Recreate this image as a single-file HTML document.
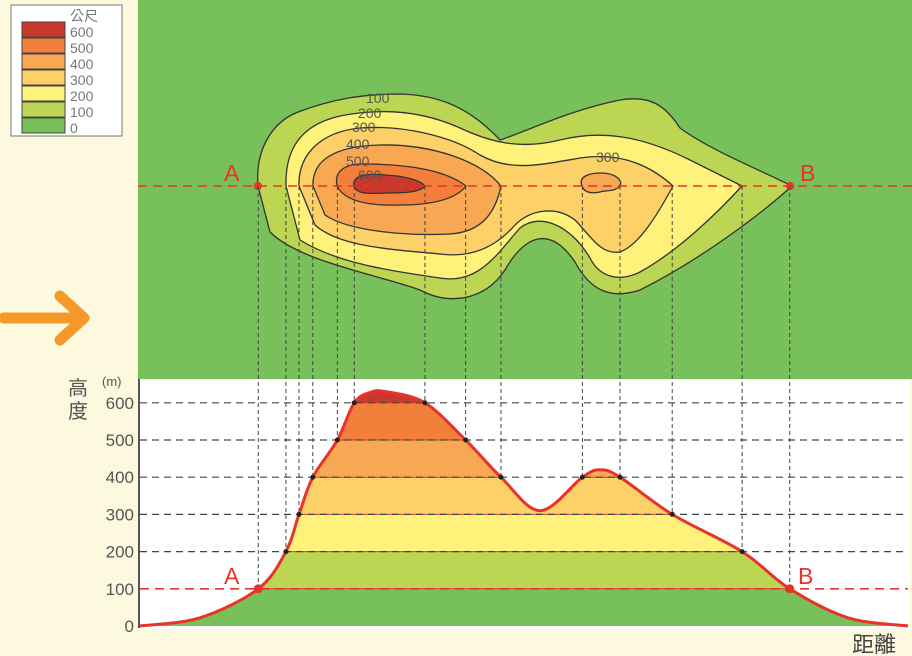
<!DOCTYPE html>
<html><head><meta charset="utf-8"><style>
html,body{margin:0;padding:0;background:#fdf9df;}
svg{display:block;font-family:"Liberation Sans","Noto Sans CJK TC",sans-serif;}
</style></head><body>
<svg id="chart" width="912" height="656" viewBox="0 0 912 656">
<rect x="0" y="0" width="912" height="656" fill="#fdf9df"/>
<g>
<rect x="138" y="0" width="774" height="379" fill="#78c05a"/>
<path fill="#bcd653" stroke="#333" stroke-width="1.3" d="M258,186 C255,150 272,122 298,112 C330,100 360,94 400,94 C440,95 470,108 500,140 C530,130 570,110 620,100 C650,95 665,105 680,128 C710,150 760,170 792,186 C760,215 700,260 640,290 C610,300 590,290 575,262 C550,225 525,235 505,270 C485,300 450,306 420,290 C380,275 300,262 270,232 Z"/>
<path fill="#fef27a" stroke="#333" stroke-width="1.3" d="M286,186 C285,150 300,125 340,116 C380,108 420,110 460,128 C490,142 520,150 560,140 C600,130 640,135 690,160 C720,175 742,186 742,186 C720,210 680,250 640,272 C620,282 600,278 590,258 C570,225 540,212 520,228 C500,250 480,285 440,278 C400,272 340,265 300,240 Z"/>
<path fill="#fdd068" stroke="#333" stroke-width="1.3" d="M299,186 C298,155 320,132 360,128 C400,125 450,135 480,155 C510,172 540,165 580,158 C620,152 650,165 673,186 C660,210 640,245 620,252 C600,255 590,235 575,220 C555,205 530,210 515,225 C495,248 470,258 440,254 C400,250 340,248 315,225 Z"/>
<path fill="#f8a853" stroke="#333" stroke-width="1.3" d="M313,186 C312,160 335,146 380,145 C430,144 480,160 501,186 C495,215 480,232 450,234 C410,236 350,232 325,215 Z"/>
<path fill="#f8a853" stroke="#333" stroke-width="1.3" d="M582,186 C578,176 590,173 601,173 C615,173 623,180 620,186 C615,192 605,190 600,192 C590,194 584,192 582,186 Z"/>
<path fill="#f2803a" stroke="#333" stroke-width="1.3" d="M337,186 C334,170 345,163 370,164 C410,165 445,170 466,186 C455,200 430,205 400,205 C370,206 345,202 337,186 Z"/>
<path fill="#c8382c" stroke="#333" stroke-width="1.3" d="M354,186 C352,176 365,173 385,175 C405,176 420,180 425,186 C420,193 400,193 385,193 C368,194 356,194 354,186 Z"/>
<g font-size="14" fill="#555">
<text x="366" y="103">100</text>
<text x="358" y="118">200</text>
<text x="352" y="132">300</text>
<text x="346" y="149">400</text>
<text x="346" y="166">500</text>
<text x="358" y="180">600</text>
<text x="596" y="162">300</text>
</g>
<line x1="138" y1="186" x2="912" y2="186" stroke="#e8332a" stroke-width="1.6" stroke-dasharray="9,6"/>
<circle cx="258" cy="186" r="4" fill="#e8332a"/>
<circle cx="790" cy="186" r="4" fill="#e8332a"/>
<text x="224" y="181" font-size="23" fill="#e8332a">A</text>
<text x="800" y="181" font-size="23" fill="#e8332a">B</text>
</g>
<g>
<rect x="11" y="5" width="111" height="131" fill="#fff" stroke="#777"/>
<text x="70" y="21" font-size="14" fill="#777" font-family="Noto Sans CJK TC, sans-serif">公尺</text>
<g id="legend-items"></g>
</g>
<g>
<line x1="4" y1="318" x2="80" y2="318" stroke="#f39a2b" stroke-width="11" stroke-linecap="round"/>
<polyline points="60,296 84,318 60,340" fill="none" stroke="#f39a2b" stroke-width="11" stroke-linecap="round" stroke-linejoin="round"/>
</g>
<rect x="139" y="379" width="771" height="250" fill="#fff"/>
<g id="profile"></g>
<text x="68" y="395" font-size="20" fill="#555" font-family="Noto Sans CJK TC, sans-serif">高</text>
<text x="68" y="418" font-size="20" fill="#555" font-family="Noto Sans CJK TC, sans-serif">度</text>
<text x="102" y="386" font-size="13" fill="#555">(m)</text>
<text x="852" y="652" font-size="22" fill="#444" font-family="Noto Sans CJK TC, sans-serif">距離</text>
</svg>
<script>
const legendLevels = [600,500,400,300,200,100,0];
const legendColors = ["#c8382c","#f2803a","#f8a853","#fdd068","#fef27a","#bcd653","#78c05a"];
const yTicks = [0,100,200,300,400,500,600];
const bandColors = ["#78c05a","#bcd653","#fef27a","#fdd068","#f8a853","#f2803a","#c8382c"];
const distances = [0,7.8,15.4,19,20.7,22.5,25.7,27.9,30,32,37.1,42.4,47,52.1,57.6,59.9,62.5,69.3,78.4,84.6,92.2,100];
const elevations = [0,22,100,200,300,400,500,600,628,630,600,500,400,310,400,420,400,300,200,100,22,0];
const marked = [2,3,4,5,6,7,10,11,12,14,16,17,18,19];

const NS="http://www.w3.org/2000/svg";
function mk(tag,attrs,parent){const e=document.createElementNS(NS,tag);for(const k in attrs)e.setAttribute(k,attrs[k]);parent.appendChild(e);return e;}
const X0=140,X1=908,Y0=626,PX=0.372;
const xs=d=>X0+(X1-X0)*d/100;
const ys=v=>Y0-v*PX;

const lg=document.getElementById('legend-items');
legendLevels.forEach((lv,i)=>{
  const y=22+i*16;
  const r=mk('rect',{x:22,y:y,width:43,height:15,fill:legendColors[i],stroke:'#444','stroke-width':1},lg);
  
  
  const t=mk('text',{x:70,y:y+15,'font-size':14,fill:'#777'},lg);
  t.textContent=lv;
  
  
});

const pts=distances.map((d,i)=>[xs(d),ys(elevations[i])]);
let dpath='M'+pts[0][0]+','+pts[0][1];
for(let i=0;i<pts.length-1;i++){
  const p0=pts[Math.max(0,i-1)],p1=pts[i],p2=pts[i+1],p3=pts[Math.min(pts.length-1,i+2)];
  const c1=[p1[0]+(p2[0]-p0[0])/6,p1[1]+(p2[1]-p0[1])/6];
  const c2=[p2[0]-(p3[0]-p1[0])/6,p2[1]-(p3[1]-p1[1])/6];
  dpath+=' C'+c1[0].toFixed(1)+','+c1[1].toFixed(1)+' '+c2[0].toFixed(1)+','+c2[1].toFixed(1)+' '+p2[0].toFixed(1)+','+p2[1].toFixed(1);
}
const pg=document.getElementById('profile');
const defs=mk('defs',{},pg);
const cp=mk('clipPath',{id:'under'},defs);
mk('path',{d:dpath+' L'+X1+','+Y0+' L'+X0+','+Y0+' Z'},cp);
const bands=mk('g',{'clip-path':'url(#under)'},pg);


bandColors.forEach((c,i)=>{
  const b=mk('rect',{x:X0,y:ys((i+1)*100),width:X1-X0,height:100*PX,fill:c},bands);
  
  
  if(i>0){const l=mk('line',{x1:X0,x2:X1,y1:ys(i*100),y2:ys(i*100),stroke:'#e8332a','stroke-width':1},bands);
  
  }
});
yTicks.forEach(v=>{
  if(v>0){
    const red=v===100;
    const g=mk('line',{x1:X0,x2:X1,y1:ys(v),y2:ys(v),stroke:red?'#e8332a':'#444','stroke-width':red?1.6:1.2,'stroke-dasharray':red?'9,6':'7,5'},pg);
    
    
  }
  const t=mk('text',{x:134,y:ys(v)+6,'font-size':17,fill:'#555','text-anchor':'end'},pg);
  t.textContent=v;
  
  
});
marked.forEach(i=>{
  const v=mk('line',{x1:pts[i][0],x2:pts[i][0],y1:186,y2:pts[i][1],stroke:'#444','stroke-width':1,'stroke-dasharray':'4,3'},pg);
  
  
});
const cur=mk('path',{d:dpath,fill:'none',stroke:'#e8332a','stroke-width':3},pg);


marked.forEach(i=>{
  const ab=elevations[i]===100;
  const c=mk('circle',{cx:pts[i][0],cy:pts[i][1],r:ab?4.5:2.5,fill:ab?'#e8332a':'#222'},pg);
  
  
});
const ax=mk('line',{x1:139,x2:139,y1:379,y2:628,stroke:'#555','stroke-width':2},pg);


const la=mk('text',{x:224,y:584,'font-size':23,fill:'#e8332a'},pg);la.textContent='A';


const lb=mk('text',{x:798,y:584,'font-size':23,fill:'#e8332a'},pg);lb.textContent='B';


</script>
</body></html>
